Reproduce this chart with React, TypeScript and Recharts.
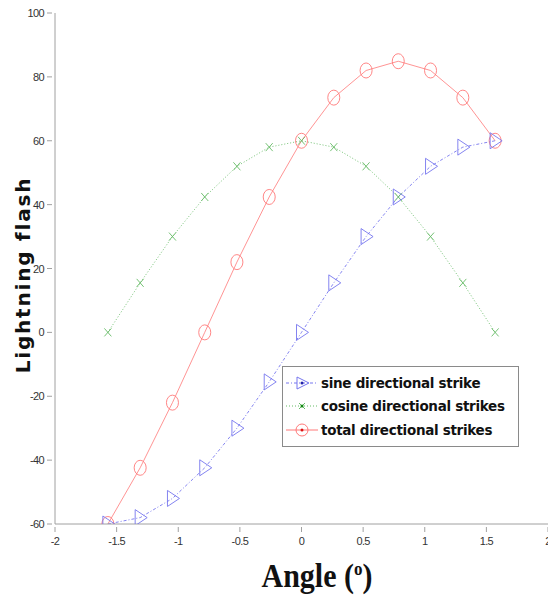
import React from 'react'
import { LineChart, Line, XAxis, YAxis } from 'recharts'

const angles = [-1.571, -1.309, -1.047, -0.785, -0.524, -0.262, 0, 0.262, 0.524, 0.785, 1.047, 1.309, 1.571]
const sine = [-60, -58, -52, -42.4, -30, -15.5, 0, 15.5, 30, 42.4, 52, 58, 60]
const cosine = [0, 15.5, 30, 42.4, 52, 58, 60, 58, 52, 42.4, 30, 15.5, 0]
const total = [-60, -42.4, -22, 0, 22, 42.4, 60, 73.5, 82, 84.9, 82, 73.5, 60]
const xTicks = [-2, -1.5, -1, -0.5, 0, 0.5, 1, 1.5, 2]
const yTicks = [-60, -40, -20, 0, 20, 40, 60, 80, 100]

const data = angles.map((a, i) => ({ a, sine: sine[i], cosine: cosine[i], total: total[i] }))

const BLUE = '#7676ee'
const GREEN = '#66bb66'
const RED = '#ff7878'
const AXIS = '#a0a0a0'

function Triangle({ cx, cy, color }: { cx: number; cy: number; color: string }) {
  return <path d={`M${cx - 5},${cy - 8} L${cx + 7},${cy} L${cx - 5},${cy + 8} Z`} fill="none" stroke={color} strokeWidth={0.9} />
}
function Cross({ cx, cy, color }: { cx: number; cy: number; color: string }) {
  return <path d={`M${cx - 3.5},${cy - 4} L${cx + 3.5},${cy + 4} M${cx - 3.5},${cy + 4} L${cx + 3.5},${cy - 4}`} stroke={color} strokeWidth={0.9} />
}
function Ring({ cx, cy, color }: { cx: number; cy: number; color: string }) {
  return <ellipse cx={cx} cy={cy} rx={6} ry={7.5} fill="none" stroke={color} strokeWidth={0.9} />
}

const tickText = { fontFamily: 'Liberation Sans, Arial, sans-serif', fontSize: 11, fill: '#333', letterSpacing: -0.6 }

function XTick(props: any) {
  const { x, y, payload } = props
  return (
    <g>
      <line x1={x} y1={y} x2={x} y2={y - 5} stroke={AXIS} />
      <text x={x} y={y + 13} textAnchor="middle" style={tickText}>{payload.value}</text>
    </g>
  )
}
function YTick(props: any) {
  const { x, y, payload } = props
  return (
    <g>
      <line x1={x} y1={y} x2={x + 5} y2={y} stroke={AXIS} />
      <text x={x - 3} y={y + 4} textAnchor="end" style={tickText}>{payload.value}</text>
    </g>
  )
}
function TopTick(props: any) {
  const { x, y } = props
  return <line x1={x} y1={y} x2={x} y2={y + 5} stroke={AXIS} />
}
function RightTick(props: any) {
  const { x, y } = props
  return <line x1={x} y1={y} x2={x - 5} y2={y} stroke={AXIS} />
}

const legendItems = [
  { label: 'sine directional strike', color: BLUE, dash: '3 2 1 2', mark: 'tri' },
  { label: 'cosine directional strikes', color: GREEN, dash: '1 2', mark: 'x' },
  { label: 'total directional strikes', color: RED, dash: undefined, mark: 'o' },
]

function LegendBox() {
  return (
    <div style={{ position: 'absolute', left: 282, top: 366, width: 237, height: 81, background: '#fff', border: '1px solid #8a8a8a', padding: '4px 0', boxSizing: 'border-box' }}>
      {legendItems.map((it) => (
        <div key={it.label} style={{ display: 'flex', alignItems: 'center', height: 23.5 }}>
          <svg width={38} height={20}>
            <line x1={3} y1={10} x2={35} y2={10} stroke={it.color} strokeDasharray={it.dash} />
            {it.mark === 'tri' && <path d="M14,4 L26,10 L14,16 Z" fill="none" stroke={it.color} />}
            {it.mark === 'tri' && <circle cx={19} cy={10} r={1.5} fill="#2222aa" />}
            {it.mark === 'x' && <path d="M16,7 L22,13 M16,13 L22,7" stroke={it.color} />}
            {it.mark === 'x' && <circle cx={19} cy={10} r={1.5} fill="#118811" />}
            {it.mark === 'o' && <circle cx={19} cy={10} r={6} fill="none" stroke={it.color} />}
            {it.mark === 'o' && <circle cx={19} cy={10} r={1.5} fill="#dd1111" />}
          </svg>
          <span style={{ fontFamily: 'DejaVu Sans, sans-serif', fontWeight: 'bold', fontSize: 13.5, color: '#111', letterSpacing: -0.3 }}>
            {it.label}
          </span>
        </div>
      ))}
    </div>
  )
}

export default function App() {
  return (
    <div style={{ position: 'absolute', left: 0, top: 0, width: 548, height: 595, background: '#fff', overflow: 'hidden' }}>
      <LineChart width={550} height={595} data={data} margin={{ top: 13, right: 2, bottom: 0, left: 0 }}>
        <XAxis xAxisId="b" dataKey="a" type="number" domain={[-2, 2]} ticks={xTicks} tick={<XTick />} tickLine={false} axisLine={{ stroke: AXIS }} height={71} interval={0} allowDataOverflow />
        <XAxis xAxisId="t" orientation="top" dataKey="a" type="number" domain={[-2, 2]} ticks={xTicks} tick={<TopTick />} tickLine={false} axisLine={{ stroke: AXIS }} height={0} interval={0} allowDataOverflow />
        <YAxis yAxisId="l" type="number" domain={[-60, 100]} ticks={yTicks} tick={<YTick />} tickLine={false} axisLine={{ stroke: AXIS }} width={55} interval={0} allowDataOverflow />
        <YAxis yAxisId="r" orientation="right" type="number" domain={[-60, 100]} ticks={yTicks} tick={<RightTick />} tickLine={false} axisLine={{ stroke: AXIS }} width={0} interval={0} allowDataOverflow />
        <Line xAxisId="b" yAxisId="l" dataKey="cosine" stroke={GREEN} strokeWidth={0.9} strokeDasharray="1 2" isAnimationActive={false}
          dot={(p: any) => <Cross key={p.key ?? p.index} cx={p.cx} cy={p.cy} color={GREEN} />} />
        <Line xAxisId="b" yAxisId="l" dataKey="total" stroke={RED} strokeWidth={0.8} isAnimationActive={false}
          dot={(p: any) => <Ring key={p.key ?? p.index} cx={p.cx} cy={p.cy} color={RED} />} />
        <Line xAxisId="b" yAxisId="l" dataKey="sine" stroke={BLUE} strokeWidth={0.9} strokeDasharray="3 2 1 2" isAnimationActive={false}
          dot={(p: any) => <Triangle key={p.key ?? p.index} cx={p.cx} cy={p.cy} color={BLUE} />} />
      </LineChart>
      <LegendBox />
      <div style={{ position: 'absolute', left: 23, top: 275, transform: 'translate(-50%, -50%) rotate(-90deg)', whiteSpace: 'nowrap',
        fontFamily: 'DejaVu Sans, sans-serif', fontWeight: 'bold', fontSize: 20, letterSpacing: 1.8, color: '#111', lineHeight: 1 }}>
        Lightning flash
      </div>
      <div style={{ position: 'absolute', left: 317, top: 576, transform: 'translate(-50%, -50%) scaleY(1.12)', whiteSpace: 'nowrap',
        fontFamily: 'Liberation Serif, Times New Roman, serif', fontWeight: 'bold', fontSize: 30, color: '#111', lineHeight: 1 }}>
        Angle (<span style={{ fontSize: 17, verticalAlign: 'top', lineHeight: 1 }}>o</span>)
      </div>
    </div>
  )
}
